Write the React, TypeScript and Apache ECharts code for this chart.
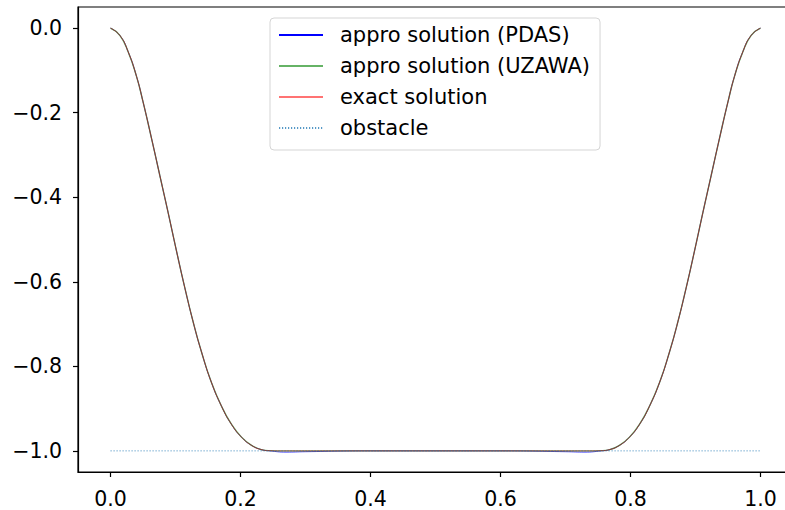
import React, { useEffect, useRef } from "react";
import * as echarts from "echarts";

const xs = [0, 0.0143, 0.0271, 0.04, 0.05, 0.063, 0.0758, 0.0886, 0.1015, 0.1143, 0.127, 0.14, 0.155, 0.171, 0.186, 0.2015, 0.217, 0.232, 0.245, 0.27, 0.3, 0.4, 0.5, 0.6, 0.7, 0.73, 0.755, 0.768, 0.783, 0.7985, 0.814, 0.829, 0.845, 0.86, 0.873, 0.8857, 0.8985, 0.9114, 0.9242, 0.937, 0.95, 0.96, 0.9729, 0.9857, 1.0];

const exactY = [0, -0.017, -0.0556, -0.114, -0.174, -0.26, -0.348, -0.436, -0.527, -0.614, -0.694, -0.766, -0.837, -0.895, -0.937, -0.9675, -0.987, -0.997, -0.9995, -1, -1, -1, -1, -1, -1, -1, -0.9995, -0.997, -0.987, -0.9675, -0.937, -0.895, -0.837, -0.766, -0.694, -0.614, -0.527, -0.436, -0.348, -0.26, -0.174, -0.114, -0.0556, -0.017, 0];

const pdasY = [0, -0.017, -0.0556, -0.114, -0.174, -0.26, -0.348, -0.436, -0.527, -0.614, -0.694, -0.766, -0.837, -0.895, -0.937, -0.9675, -0.987, -0.997, -1.0, -1.003, -1.002, -1, -1, -1, -1.002, -1.003, -1.0, -0.997, -0.987, -0.9675, -0.937, -0.895, -0.837, -0.766, -0.694, -0.614, -0.527, -0.436, -0.348, -0.26, -0.174, -0.114, -0.0556, -0.017, 0];

const uzawaY = [0, -0.017, -0.0556, -0.114, -0.174, -0.26, -0.348, -0.436, -0.527, -0.614, -0.694, -0.766, -0.837, -0.895, -0.937, -0.9675, -0.987, -0.997, -0.9995, -1, -1, -1, -1, -1, -1, -1, -0.9995, -0.997, -0.987, -0.9675, -0.937, -0.895, -0.837, -0.766, -0.694, -0.614, -0.527, -0.436, -0.348, -0.26, -0.174, -0.114, -0.0556, -0.017, 0];

const obstacleX = [0, 0.25, 0.5, 0.75, 1.0];
const obstacleY = [-1, -1, -1, -1, -1];

const xTicks = [0, 0.2, 0.4, 0.6, 0.8, 1.0];
const yTicks = [-1.0, -0.8, -0.6, -0.4, -0.2, 0.0];

const seriesNames = ["appro solution (PDAS)", "appro solution (UZAWA)", "exact solution", "obstacle"];

const FONT = "DejaVu Sans";

function fmt(v: number) {
  const s = Math.abs(v).toFixed(1);
  return v < -1e-9 ? "\u2212" + s : s;
}

function pairs(x: number[], y: number[]) {
  return x.map((v, i) => [v, y[i]]);
}

export default function App() {
  const ref = useRef<HTMLDivElement>(null);
  useEffect(() => {
    if (!ref.current) return;
    const chart = echarts.init(ref.current, null, { renderer: "svg" });
    const tickStyle = { color: "#000", width: 1.2 };
    chart.setOption({
      animation: false,
      backgroundColor: "#ffffff",
      textStyle: { fontFamily: FONT },
      grid: {
        left: 78,
        top: 7,
        width: 715,
        height: 465,
        outerBoundsMode: "none",
        containLabel: false,
        show: true,
        borderColor: "#000000",
        borderWidth: 1.2,
        backgroundColor: "transparent",
      },
      legend: {
        orient: "vertical",
        left: 270,
        top: 18,
        padding: [6, 10, 11, 8],
        itemGap: 9,
        itemWidth: 44,
        itemHeight: 14,
        backgroundColor: "rgba(255,255,255,0.8)",
        borderColor: "#d5d5d5",
        borderWidth: 1,
        borderRadius: 4,
        data: seriesNames,
        itemStyle: { opacity: 0, borderWidth: 0 },
        textStyle: {
          fontFamily: FONT,
          fontSize: 21,
          color: "#000000",
          lineHeight: 22,
          padding: [0, 0, 0, 12],
        },
      },
      xAxis: {
        type: "value",
        min: -0.05,
        max: 1.05,
        splitLine: { show: false },
        axisLine: { show: true, onZero: false, lineStyle: tickStyle },
        axisTick: {
          show: true,
          length: 5,
          inside: false,
          lineStyle: tickStyle,
          customValues: xTicks,
        },
        axisLabel: {
          show: true,
          customValues: xTicks,
          margin: 16,
          fontSize: 20.5,
          fontFamily: FONT,
          color: "#000",
          formatter: (v: number) => fmt(v),
        },
      },
      yAxis: {
        type: "value",
        min: -1.05,
        max: 0.05,
        splitLine: { show: false },
        axisLine: { show: true, onZero: false, lineStyle: tickStyle },
        axisTick: {
          show: true,
          length: 5,
          inside: false,
          lineStyle: tickStyle,
          customValues: yTicks,
        },
        axisLabel: {
          show: true,
          customValues: yTicks,
          margin: 16,
          fontSize: 20.5,
          fontFamily: FONT,
          color: "#000",
          formatter: (v: number) => fmt(v),
        },
      },
      series: [
        {
          name: seriesNames[0],
          type: "line",
          data: pairs(xs, pdasY),
          symbol: "none",
          smooth: 0.5,
          lineStyle: { color: "#0000ff", width: 0.7 },
          itemStyle: { color: "#0000ff" },
          z: 2,
        },
        {
          name: seriesNames[1],
          type: "line",
          data: pairs(xs, uzawaY),
          symbol: "none",
          smooth: 0.5,
          lineStyle: { color: "rgba(0,128,0,0.6)", width: 1.4 },
          itemStyle: { color: "rgba(0,128,0,0.6)" },
          z: 3,
        },
        {
          name: seriesNames[2],
          type: "line",
          data: pairs(xs, exactY),
          symbol: "none",
          smooth: 0.5,
          lineStyle: { color: "rgba(255,0,0,0.55)", width: 0.9 },
          itemStyle: { color: "rgba(255,0,0,0.55)" },
          z: 4,
        },
        {
          name: seriesNames[3],
          type: "line",
          data: pairs(obstacleX, obstacleY),
          symbol: "none",
          lineStyle: { color: "rgba(31,119,180,0.75)", width: 1, type: [1.2, 1.8] },
          itemStyle: { color: "rgba(31,119,180,0.75)" },
          z: 5,
        },
      ],
    });
    return () => chart.dispose();
  }, []);
  return (
    <div
      ref={ref}
      style={{ position: "fixed", left: 0, top: 0, width: 785, height: 510, background: "#fff" }}
    />
  );
}
